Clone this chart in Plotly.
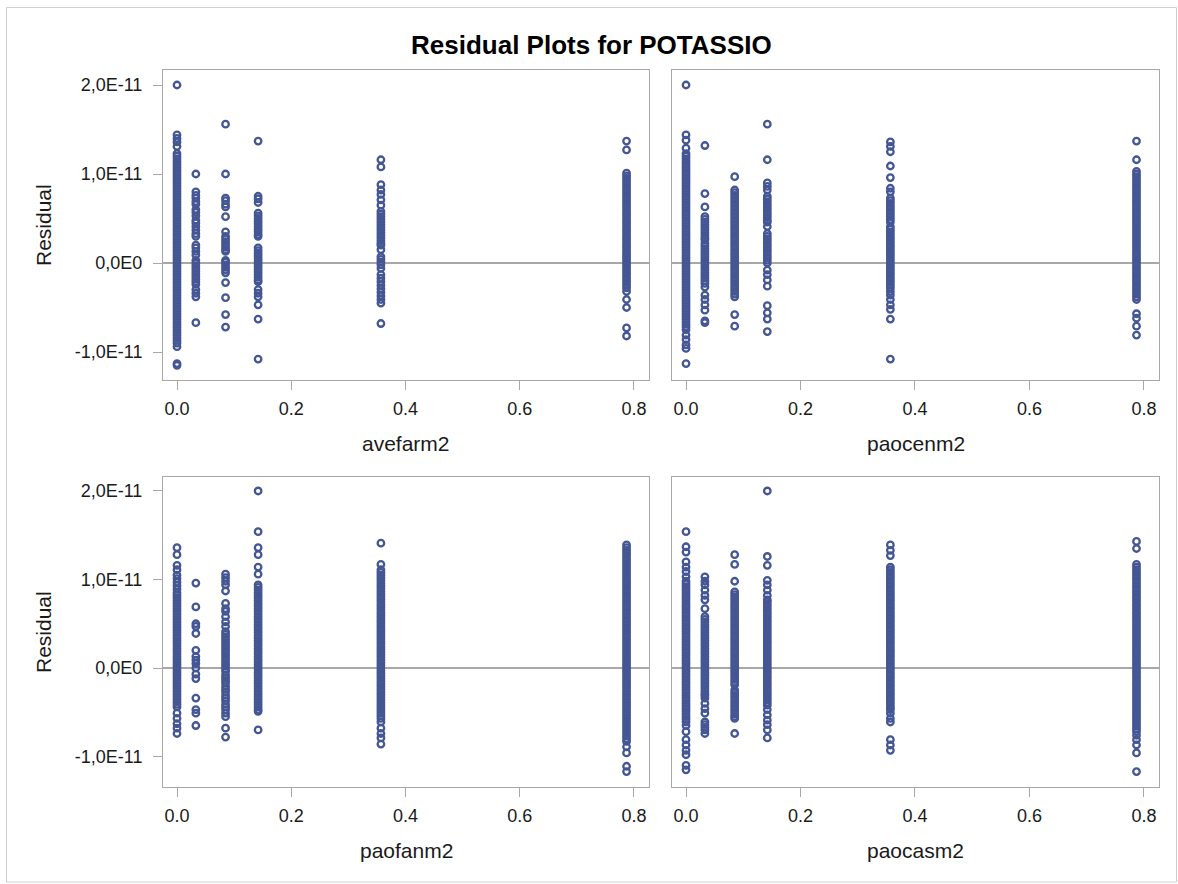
import plotly.graph_objects as go

# Distinct predictor levels shared by the four panels
X_LEVELS = [0.0, 0.033, 0.085, 0.142, 0.357, 0.787]

# Residuals, in units of 1e-13 (hundredths of 1E-11), one list per predictor level
avefarm2_res = [
    [200, 144, 140, 136, 131, 123, 120, 117, 114, 111, 108, 105, 102, 99, 96, 93, 90, 87, 84, 81, 78, 75,
     72, 69, 66, 63, 60, 57, 54, 51, 48, 45, 42, 39, 36, 33, 30, 27, 24, 21, 18, 15, 12, 9, 6, 3, 0, -3,
     -6, -9, -12, -15, -18, -21, -24, -27, -30, -33, -36, -39, -42, -45, -48, -51, -54, -57, -60, -63,
     -66, -69, -72, -75, -78, -81, -84, -87, -90, -94, -113, -115],
    [100, 80, 76, 73, 69, 66, 60, 57, 53, 48, 45, 41, 37, 33, 30, 20, 17, 13, 9, 3, 0, -3, -6, -9, -12,
     -15, -18, -21, -24, -30, -34, -38, -67],
    [156, 100, 73, 70, 66, 63, 52, 35, 30, 27, 24, 21, 18, 15, 13, 3, 1, -2, -5, -8, -11, -22, -39, -58,
     -72],
    [137, 75, 72, 68, 56, 53, 50, 47, 44, 41, 38, 35, 32, 30, 17, 14, 11, 8, 5, 2, -1, -4, -7, -10, -13,
     -16, -19, -21, -30, -34, -38, -47, -63, -108],
    [116, 108, 88, 82, 77, 71, 65, 58, 55, 52, 49, 46, 43, 40, 37, 34, 31, 28, 25, 22, 20, 15, 7, 4, 1,
     -2, -6, -13, -17, -21, -25, -29, -33, -37, -41, -45, -68],
    [137, 127, 101, 98, 95, 92, 89, 86, 83, 80, 77, 74, 71, 68, 65, 62, 59, 56, 53, 50, 47, 44, 41, 38,
     35, 32, 29, 26, 23, 20, 17, 14, 11, 8, 5, 2, -1, -4, -7, -10, -13, -16, -19, -22, -25, -28, -32,
     -41, -50, -73, -82],
]

paocenm2_res = [
    [200, 144, 138, 129, 123, 120, 117, 114, 111, 108, 105, 102, 99, 96, 93, 90, 87, 84, 81, 78, 75, 72,
     69, 66, 63, 60, 57, 54, 51, 48, 45, 42, 39, 36, 33, 30, 27, 24, 21, 18, 15, 12, 9, 6, 3, 0, -3, -6,
     -9, -12, -15, -18, -21, -24, -27, -30, -33, -36, -39, -42, -45, -48, -51, -54, -57, -60, -63, -66,
     -69, -72, -75, -81, -86, -92, -96, -113],
    [132, 78, 63, 52, 49, 46, 43, 40, 37, 34, 31, 28, 26, 22, 19, 16, 13, 10, 7, 4, 1, -2, -5, -8, -11,
     -14, -17, -20, -23, -27, -36, -41, -47, -53, -65, -67],
    [97, 82, 79, 76, 73, 70, 67, 64, 61, 58, 55, 52, 49, 46, 43, 40, 37, 34, 31, 28, 25, 22, 19, 16, 13,
     10, 7, 4, 1, -2, -5, -8, -11, -14, -17, -20, -23, -26, -29, -32, -35, -38, -58, -71],
    [156, 116, 90, 86, 82, 75, 72, 69, 66, 63, 60, 57, 54, 51, 48, 46, 41, 33, 30, 27, 24, 21, 18, 15,
     12, 9, 6, 3, 0, -8, -13, -19, -26, -48, -56, -63, -77],
    [136, 131, 125, 109, 96, 84, 80, 73, 70, 67, 64, 61, 58, 55, 52, 49, 46, 41, 38, 35, 32, 29, 26, 23,
     20, 17, 14, 11, 8, 5, 2, -1, -4, -7, -10, -13, -16, -19, -22, -25, -28, -32, -36, -41, -47, -52,
     -63, -108],
    [137, 116, 103, 100, 97, 94, 91, 88, 85, 82, 79, 76, 73, 70, 67, 64, 61, 58, 55, 52, 49, 46, 43, 40,
     37, 34, 31, 28, 25, 22, 19, 16, 13, 10, 7, 4, 1, -2, -5, -8, -11, -14, -17, -20, -23, -26, -29,
     -32, -35, -38, -41, -57, -62, -71, -81],
]

paofanm2_res = [
    [136, 128, 116, 111, 105, 101, 97, 93, 89, 85, 82, 79, 76, 73, 70, 67, 64, 61, 58, 55, 52, 49, 46,
     43, 40, 37, 34, 31, 28, 25, 22, 19, 16, 13, 10, 7, 4, 1, -2, -5, -8, -11, -14, -17, -20, -23, -26,
     -29, -32, -35, -38, -41, -44, -51, -57, -63, -68, -74],
    [96, 69, 50, 47, 39, 20, 13, 9, 5, 0, -7, -12, -34, -47, -51, -65],
    [106, 102, 98, 94, 87, 73, 67, 64, 58, 52, 47, 41, 38, 35, 32, 29, 26, 23, 20, 17, 14, 11, 8, 5, 2,
     -1, -4, -8, -11, -14, -17, -21, -24, -27, -31, -34, -37, -41, -44, -47, -51, -55, -68, -78],
    [200, 154, 136, 128, 114, 106, 94, 91, 88, 85, 82, 79, 76, 73, 70, 67, 64, 61, 58, 55, 52, 49, 46,
     43, 40, 37, 34, 31, 28, 25, 22, 19, 16, 13, 10, 7, 4, 1, -2, -5, -8, -11, -14, -17, -20, -23, -26,
     -29, -32, -35, -38, -41, -44, -47, -49, -70],
    [141, 117, 111, 108, 105, 102, 99, 96, 93, 90, 87, 84, 81, 78, 75, 72, 69, 66, 63, 60, 57, 54, 51,
     48, 45, 42, 39, 36, 33, 30, 27, 24, 21, 18, 15, 12, 9, 6, 3, 0, -3, -6, -9, -12, -15, -18, -21, -24,
     -27, -30, -33, -36, -39, -42, -45, -48, -51, -54, -57, -61, -68, -74, -79, -86],
    [139, 136, 133, 130, 127, 124, 121, 118, 115, 112, 109, 106, 103, 100, 97, 94, 91, 88, 85, 82, 79,
     76, 73, 70, 67, 64, 61, 58, 55, 52, 49, 46, 43, 40, 37, 34, 31, 28, 25, 22, 19, 16, 13, 10, 7, 4, 1,
     -2, -5, -8, -11, -14, -17, -20, -23, -26, -29, -32, -35, -38, -41, -44, -47, -50, -53, -56, -59,
     -62, -65, -68, -71, -74, -77, -80, -83, -89, -96, -111, -117],
]

paocasm2_res = [
    [154, 137, 131, 120, 114, 109, 103, 98, 95, 92, 89, 86, 83, 80, 77, 74, 71, 68, 65, 62, 59, 56, 53,
     50, 47, 44, 41, 38, 35, 32, 29, 26, 23, 20, 17, 14, 11, 8, 5, 2, -1, -4, -7, -10, -13, -16, -19,
     -22, -25, -28, -31, -34, -37, -40, -43, -46, -49, -52, -55, -58, -61, -65, -72, -81, -87, -93, -98,
     -110, -115],
    [103, 98, 94, 88, 82, 77, 67, 58, 55, 52, 49, 46, 43, 40, 37, 34, 31, 28, 25, 22, 19, 16, 13, 10, 7,
     4, 1, -2, -5, -8, -11, -14, -17, -20, -23, -26, -29, -31, -34, -40, -46, -51, -61, -64, -67, -70,
     -74],
    [128, 117, 98, 86, 83, 80, 77, 74, 71, 68, 65, 62, 59, 56, 53, 50, 47, 44, 41, 38, 35, 32, 29, 26,
     23, 20, 17, 14, 11, 8, 5, 2, -1, -4, -7, -10, -13, -16, -19, -25, -28, -31, -34, -37, -40, -43, -46,
     -49, -52, -55, -57, -74],
    [200, 126, 116, 99, 94, 88, 82, 77, 75, 72, 69, 66, 63, 60, 57, 54, 51, 48, 45, 42, 39, 36, 33, 30,
     27, 24, 21, 18, 15, 12, 9, 6, 3, 0, -3, -6, -9, -12, -15, -18, -21, -24, -27, -30, -33, -36, -39,
     -42, -47, -53, -59, -64, -70, -79],
    [139, 133, 127, 114, 111, 108, 105, 102, 99, 96, 93, 90, 87, 84, 81, 78, 75, 72, 69, 66, 63, 60, 57,
     54, 51, 48, 45, 42, 39, 36, 33, 30, 27, 24, 21, 18, 15, 12, 9, 6, 3, 0, -3, -6, -9, -12, -15, -18,
     -21, -24, -27, -30, -33, -36, -39, -42, -45, -47, -51, -57, -61, -81, -87, -93],
    [143, 135, 117, 114, 111, 108, 105, 102, 99, 96, 93, 90, 87, 84, 81, 78, 75, 72, 69, 66, 63, 60, 57,
     54, 51, 48, 45, 42, 39, 36, 33, 30, 27, 24, 21, 18, 15, 12, 9, 6, 3, 0, -3, -6, -9, -12, -15, -18,
     -21, -24, -27, -30, -33, -36, -39, -42, -45, -48, -51, -54, -57, -60, -63, -66, -69, -72, -76, -81,
     -87, -96, -117],
]

X_TICKS = [0.0, 0.2, 0.4, 0.6, 0.8]
X_TICK_TEXT = ["0.0", "0.2", "0.4", "0.6", "0.8"]
Y_TICKS = [-1e-11, 0.0, 1e-11, 2e-11]
Y_TICK_TEXT = ["-1,0E-11", "0,0E0", "1,0E-11", "2,0E-11"]

TITLE = "Residual Plots for POTASSIO"
Y_TITLE = "Residual"

W, H = 1178, 884
MARKER = "#445694"
FRAME = "#a8a8a8"
TEXT = "#1a1a1a"
FONT = "Liberation Sans, Arial, sans-serif"

# pixel boxes of the four panels: (left, right, top, bottom)
panels = [
    ("avefarm2", avefarm2_res, (163, 649, 70, 380), (-1.3146e-11, 2.1685e-11), True),
    ("paocenm2", paocenm2_res, (672, 1159, 70, 380), (-1.3146e-11, 2.1685e-11), False),
    ("paofanm2", paofanm2_res, (163, 649, 477, 787), (-1.3446e-11, 2.158e-11), True),
    ("paocasm2", paocasm2_res, (672, 1159, 477, 787), (-1.3446e-11, 2.158e-11), False),
]

fig = go.Figure()
layout = dict(
    width=W, height=H,
    margin=dict(l=0, r=0, t=0, b=0),
    paper_bgcolor="white", plot_bgcolor="white",
    showlegend=False,
    font=dict(family=FONT, color=TEXT),
)
annotations = []

for i, (name, res, (l, r, t, b), yr, show_y) in enumerate(panels, start=1):
    xs, ys = [], []
    for level, vals in zip(X_LEVELS, res):
        for v in vals:
            xs.append(level)
            ys.append(v * 1e-13)
    sfx = "" if i == 1 else str(i)
    fig.add_trace(go.Scatter(
        x=xs, y=ys, mode="markers",
        xaxis="x" + sfx, yaxis="y" + sfx,
        marker=dict(symbol="circle-open", size=6.5, color=MARKER,
                    line=dict(width=2.3, color=MARKER)),
        hoverinfo="skip",
    ))
    layout["xaxis" + sfx] = dict(
        domain=[l / W, r / W], anchor="y" + sfx,
        range=[-0.0245, 0.8263], tickvals=X_TICKS, ticktext=X_TICK_TEXT,
        showline=True, mirror=True, linecolor=FRAME, linewidth=1,
        ticks="outside", ticklen=9, tickcolor=FRAME, tickwidth=1,
        ticklabelstandoff=3,
        showgrid=False, zeroline=False,
        tickfont=dict(size=18, color=TEXT, family=FONT),
    )
    layout["yaxis" + sfx] = dict(
        domain=[1 - b / H, 1 - t / H], anchor="x" + sfx,
        range=list(yr), tickvals=Y_TICKS, ticktext=Y_TICK_TEXT,
        showline=True, mirror=True, linecolor=FRAME, linewidth=1,
        ticks="outside" if show_y else "", ticklen=9, tickcolor=FRAME, tickwidth=1,
        ticklabelstandoff=7,
        showticklabels=show_y,
        showgrid=False,
        zeroline=True, zerolinecolor=FRAME, zerolinewidth=1.5,
        tickfont=dict(size=18, color=TEXT, family=FONT),
    )
    # axis titles sit a fixed distance below / left of each panel
    annotations.append(dict(
        text=name, x=(l + r) / 2 / W, y=1 - (b + 63) / H,
        xref="paper", yref="paper", xanchor="center", yanchor="middle",
        showarrow=False, font=dict(size=21, color=TEXT, family=FONT),
    ))
    if show_y:
        annotations.append(dict(
            text=Y_TITLE, x=43 / W, y=1 - (t + b) / 2 / H,
            xref="paper", yref="paper", xanchor="center", yanchor="middle",
            textangle=-90, showarrow=False,
            font=dict(size=21, color=TEXT, family=FONT),
        ))

annotations.append(dict(
    text="<b>" + TITLE + "</b>", x=591 / W, y=1 - 45 / H,
    xref="paper", yref="paper", xanchor="center", yanchor="middle",
    showarrow=False, font=dict(size=26, color="#000000", family=FONT),
))
layout["annotations"] = annotations
layout["shapes"] = [dict(
    type="rect", xref="paper", yref="paper",
    x0=6.5 / W, x1=1176.5 / W, y0=1 - 882 / H, y1=1 - 7.5 / H,
    line=dict(color="#cfcfcf", width=1), fillcolor="rgba(0,0,0,0)", layer="below",
)]

fig.update_layout(**layout)
fig.write_html("out.html")
